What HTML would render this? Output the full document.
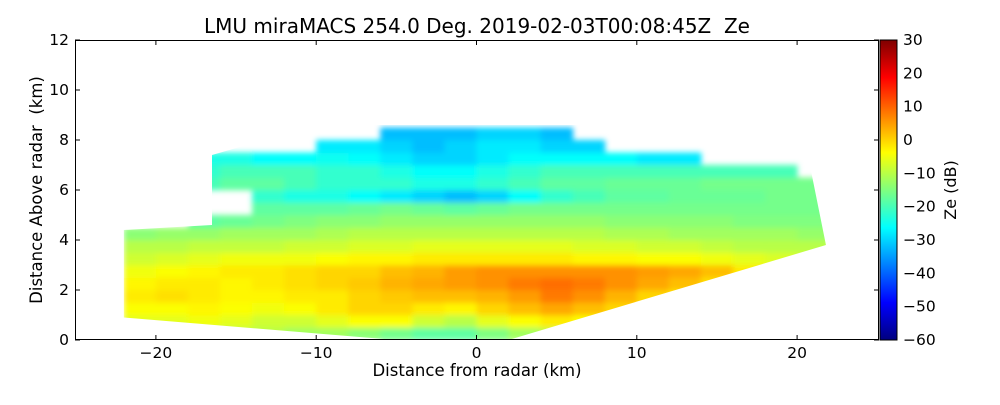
<!DOCTYPE html>
<html><head><meta charset="utf-8"><style>
body{margin:0;background:#fff;width:1000px;height:400px;overflow:hidden}
svg text{font-family:"DejaVu Sans","Liberation Sans",sans-serif;fill:#000}
</style></head><body>
<svg id="chart" width="1000" height="400" xmlns="http://www.w3.org/2000/svg">
<defs>
<linearGradient id="jet" x1="0" y1="1" x2="0" y2="0">
<stop offset="0" stop-color="#00007f"/><stop offset="0.125" stop-color="#0000ff"/>
<stop offset="0.375" stop-color="#00ffff"/><stop offset="0.5" stop-color="#7fff7f"/><stop offset="0.625" stop-color="#ffff00"/>
<stop offset="0.875" stop-color="#ff0000"/><stop offset="1" stop-color="#7f0000"/>
</linearGradient>
<clipPath id="scanclip"><polygon id="clipPoly"/></clipPath>
<filter id="soft" x="-5%" y="-5%" width="110%" height="110%"><feGaussianBlur stdDeviation="3"/></filter>
</defs>
<text x="477" y="33" font-size="20" text-anchor="middle" xml:space="preserve">LMU miraMACS 254.0 Deg. 2019-02-03T00:08:45Z  Ze</text>
<g clip-path="url(#scanclip)"><g id="cells" filter="url(#soft)"></g></g>
<rect x="75.5" y="40.5" width="803" height="299" fill="none" stroke="#000" stroke-width="1"/>
<g id="axes"></g>
<rect x="880" y="40" width="17" height="300" fill="url(#jet)" stroke="#000" stroke-width="1"/>
<text x="477" y="376" font-size="16.5" text-anchor="middle">Distance from radar (km)</text>
<text transform="translate(42,190) rotate(-90)" font-size="16.5" text-anchor="middle" xml:space="preserve">Distance Above radar  (km)</text>
<text transform="translate(956,190) rotate(-90)" font-size="16" text-anchor="middle">Ze (dB)</text>
</svg>
<script>
const xTicks=[-20,-10,0,10,20];
const yTicks=[0,2,4,6,8,10,12];
const cbTicks=[-60,-50,-40,-30,-20,-10,0,10,20,30];
const colCenters=[-21,-19,-17,-15,-13,-11,-9,-7,-5,-3,-1,1,3,5,7,9,11,13,15,17,19,21];
const rowBottoms=[0,0.5,1,1.5,2,2.5,3,3.5,4,4.5,5,5.5,6,6.5,7,7.5,8];
const n=null;
const ze=[
[-10,-10,-10,-10,-10,-12,-12,-14,-16,-18,-18,-15,-12,-10,-10,-10,-10,-10,-10,-10,-10,-10],
[-6,-6,-5,-6,-8,-8,-6,-4,-4,-8,-10,-6,-4,-2,-4,-5,-6,-6,-6,-6,-6,-6],
[-4,-4,-3,-4,-5,-4,-2,0,0,-2,-3,0,2,4,2,0,-2,-4,-5,-5,-5,-5],
[-2,-1,-2,-3,-3,-2,-2,0,1,2,2,3,5,8,6,3,0,-2,-4,-5,-5,-5],
[-3,-2,-2,-3,-2,-1,0,1,3,4,5,6,8,9,8,6,4,2,-1,-4,-5,-5],
[-5,-4,-3,-2,-2,-1,0,0,2,3,5,6,6,6,6,6,5,4,2,-2,-4,-5],
[-8,-7,-6,-5,-5,-5,-4,-3,-3,-2,-2,-2,-2,-2,-3,-3,-4,-4,-5,-6,-7,-8],
[-10,-10,-9,-9,-9,-8,-8,-7,-7,-6,-6,-6,-6,-6,-7,-7,-8,-8,-9,-10,-10,-10],
[-14,-13,-13,-12,-12,-12,-11,-10,-10,-10,-10,-10,-10,-10,-10,-11,-11,-12,-12,-12,-12,-13],
[n,n,-18,-17,-16,-15,-14,-14,-13,-13,-13,-13,-13,-13,-13,-14,-14,-14,-14,-15,-15,-15],
[n,n,n,n,-18,-18,-18,-17,-16,-17,-18,-17,-16,-16,-16,-16,-16,-16,-16,-16,-16,-16],
[n,n,n,n,-22,-24,-24,-26,-28,-30,-32,-30,-26,-22,-20,-18,-18,-17,-17,-17,-16,-16],
[n,n,-20,-18,-18,-20,-22,-22,-22,-24,-24,-22,-20,-18,-18,-17,-17,-17,-16,-16,-16,-16],
[n,n,-22,-20,-20,-20,-22,-22,-24,-26,-26,-24,-22,-20,-20,-20,-20,-20,-20,-20,-20,n],
[n,n,-24,-24,-26,-26,-25,-26,-28,-30,-30,-28,-26,-26,-26,-26,-28,-28,n,n,n,n],
[n,n,n,n,n,n,-28,-28,-30,-32,-30,-28,-28,-30,-30,n,n,n,n,n,n,n],
[n,n,n,n,n,n,n,n,-32,-32,-32,-30,-30,-32,n,n,n,n,n,n,n,n]
];
const scanX=[-22,-5,2,21.8,20.7,10,-10,-16.5,-16.5,-22];
const scanY=[0.9,0,0,3.8,7.3,8.6,8.6,7.4,4.6,4.4];

const X=v=>476.5+v*16.03, Y=v=>340-v*25, CB=v=>340-(v+60)/90*300;
const NS="http://www.w3.org/2000/svg";
function jet(v){
  let t=Math.max(0,Math.min(1,(v+60)/90));
  const r=Math.max(0,Math.min(1,1.5-Math.abs(4*t-3)));
  const g=Math.max(0,Math.min(1,1.5-Math.abs(4*t-2)));
  const b=Math.max(0,Math.min(1,1.5-Math.abs(4*t-1)));
  return `rgb(${Math.round(r*255)},${Math.round(g*255)},${Math.round(b*255)})`;
}
document.getElementById('clipPoly').setAttribute('points',scanX.map((x,i)=>X(x)+','+Y(scanY[i])).join(' '));
const cells=document.getElementById('cells');
ze.forEach((row,ri)=>row.forEach((v,ci)=>{
  if(v===null)return;
  const r=document.createElementNS(NS,'rect');
  
  
  r.setAttribute('x',X(colCenters[ci]-1));r.setAttribute('y',Y(rowBottoms[ri]+0.5));
  r.setAttribute('width',X(colCenters[ci]+1)-X(colCenters[ci]-1)+0.5);r.setAttribute('height',12.8);
  r.setAttribute('fill',jet(v));
  cells.appendChild(r);
}));
const ax=document.getElementById('axes');
function add(tag,attrs,txt){const e=document.createElementNS(NS,tag);for(const k in attrs)e.setAttribute(k,attrs[k]);if(txt!==undefined)e.textContent=txt;ax.appendChild(e);return e;}
xTicks.forEach(t=>{
  const l=add('line',{x1:X(t),x2:X(t),y1:340,y2:335,stroke:'#000'});
  
  
  const l2=add('line',{x1:X(t),x2:X(t),y1:40,y2:45,stroke:'#000'});
  
  
  const tx=add('text',{x:X(t),y:358,'font-size':15.5,'text-anchor':'middle'},(t<0?'\u2212'+(-t):t));
  
  
});
yTicks.forEach(t=>{
  const l=add('line',{x1:75,x2:80,y1:Y(t),y2:Y(t),stroke:'#000'});
  
  
  const l2=add('line',{x1:874,x2:879,y1:Y(t),y2:Y(t),stroke:'#000'});
  
  
  const tx=add('text',{x:69,y:Y(t)+5,'font-size':15.5,'text-anchor':'end'},t);
  
  
});
cbTicks.forEach(t=>{
  const l=add('line',{x1:892,x2:897,y1:CB(t),y2:CB(t),stroke:'#000'});
  
  
  const tx=add('text',{x:903,y:CB(t)+5,'font-size':15.5},(t<0?'\u2212'+(-t):t));
  
  
});
</script>
</body></html>
